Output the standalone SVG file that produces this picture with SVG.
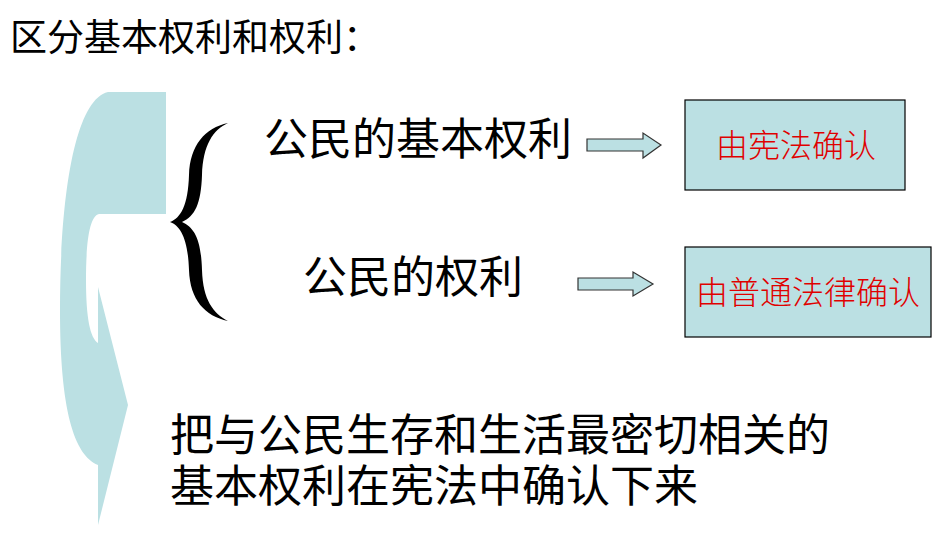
<svg xmlns="http://www.w3.org/2000/svg" width="939" height="539" viewBox="0 0 939 539">
<style>
.t{font-family:"Noto Sans CJK SC","Liberation Sans",sans-serif;fill:#000}
.big{font-size:44px}
.red{font-family:"Noto Sans CJK SC","Liberation Sans",sans-serif;font-size:32px;fill:#e00000;font-weight:300}
.box{fill:#bbe0e3;stroke:#000;stroke-width:1.2}
.arrow{fill:#bbe0e3;stroke:#333;stroke-width:1.2}
</style>
<rect width="939" height="539" fill="#fff"/>
<g id="decor">
<path fill="#bbe0e3" d="M166 92 L166 214 L99 214 C89 216 86 245 86 280 C86 318 90 338 98 343 L98 287 L128 405 L98 525 L98 465 C74 455 60 410 60 310 C60 200 74 100 108 92 Z"/>
</g>
<g id="title"><text class="t" x="10" y="51" font-size="37">区分基本权利和权利：</text></g>
<g id="brace">
<path fill="#000" d="M228 123 C205 128 190 145 189 175 C188 205 181 218 170 222 C181 226 188 240 189 270 C190 300 205 316 228 321 C213 313 203 300 202 270 C201 240 195 228 182 222 C195 216 201 204 202 175 C203 145 213 130 228 123 Z"/>
</g>
<g id="n1"><text class="t big" x="264" y="155">公民的基本权利</text></g>
<g id="n2"><text class="t big" x="303" y="293">公民的权利</text></g>
<g id="b1"><rect class="box" x="685" y="100" width="220" height="90"/><text class="red" x="796" y="157" text-anchor="middle">由宪法确认</text></g>
<g id="b2"><rect class="box" x="685" y="247" width="246" height="90"/><text class="red" x="808" y="304" text-anchor="middle">由普通法律确认</text></g>
<g id="connectors">
<path class="arrow" d="M587 139 L643 139 L643 133 L661 145 L643 158 L643 151 L587 151 Z"/>
<path class="arrow" d="M578 278 L633 278 L633 272 L653 284 L633 296 L633 290 L578 290 Z"/>
</g>
<g id="note">
<text class="t big" x="170" y="451">把与公民生存和生活最密切相关的</text>
<text class="t big" x="170" y="502">基本权利在宪法中确认下来</text>
</g>
</svg>
